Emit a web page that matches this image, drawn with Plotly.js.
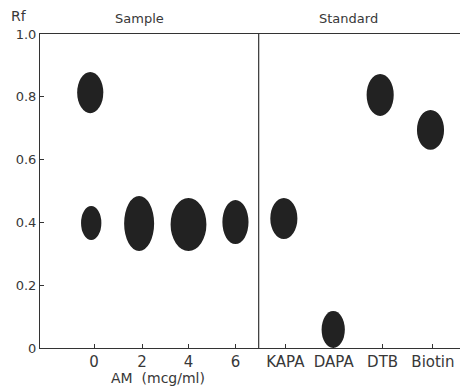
<!DOCTYPE html>
<html>
<head>
<meta charset="utf-8">
<script src="https://cdn.plot.ly/plotly-3.0.1.min.js"></script>
<style>
html,body{margin:0;padding:0;overflow:hidden;background:#fff;width:460px;height:388px;}
#chart{width:464px;height:388px;}
</style>
</head>
<body>
<div id="chart"></div>
<script>
// Lane tick positions and labels
var tickPositions = [0, 0.99, 1.95, 2.92, 3.95, 4.95, 5.96, 7.0];
var tickLabels = ["0", "2", "4", "6", "KAPA", "DAPA", "DTB", "Biotin"];

// Spots (read from the plate): lane position, Rf low/high, spot width in lane units
var spotNames = ["AM 0 (upper)", "AM 0", "AM 2", "AM 4", "AM 6", "KAPA", "DAPA", "DTB", "Biotin"];
var spotLane  = [-0.08, -0.06, 0.93, 1.95, 2.92, 3.92, 4.94, 5.91, 6.95];
var spotRfLow = [0.748, 0.344, 0.309, 0.309, 0.331, 0.347, 0.000, 0.739, 0.631];
var spotRfHigh= [0.879, 0.452, 0.484, 0.478, 0.471, 0.478, 0.118, 0.873, 0.758];
var spotWidth = [0.54, 0.42, 0.62, 0.74, 0.54, 0.56, 0.48, 0.56, 0.56];

var yTickVals = [0, 0.2, 0.4, 0.6, 0.8, 1.0];
var yTickText = ["0", "0.2", "0.4", "0.6", "0.8", "1.0"];

var ink = "#222222";
var txt = "#383838";
var fontFam = "DejaVu Sans, sans-serif";

var rfCenter = spotRfLow.map(function(l, i){ return (l + spotRfHigh[i]) / 2; });

var shapes = spotLane.map(function(x, i){
  return {
    type: "circle", xref: "x", yref: "y",
    x0: x - spotWidth[i]/2, x1: x + spotWidth[i]/2,
    y0: spotRfLow[i], y1: spotRfHigh[i],
    fillcolor: ink, line: {width: 0}, layer: "above"
  };
});
// divider between Sample and Standard sections
shapes.push({type: "line", xref: "x", yref: "paper", x0: 3.40, x1: 3.40, y0: 0, y1: 1,
  line: {color: "#333", width: 1.2}});

var traces = [{
  type: "scatter", mode: "markers",
  x: spotLane, y: rfCenter, text: spotNames,
  marker: {size: 10, color: ink, opacity: 0},
  hoverinfo: "text+y", showlegend: false
}];

var layout = {
  width: 464, height: 388,
  margin: {l: 40, r: 0, t: 34, b: 40},
  paper_bgcolor: "#fff", plot_bgcolor: "#fff",
  showlegend: false,
  font: {family: fontFam, color: txt, size: 13},
  xaxis: {
    range: [-1.118, 7.642], tickvals: tickPositions, ticktext: tickLabels,
    ticks: "inside", ticklen: 4, tickcolor: "#333", tickwidth: 1,
    showline: true, linecolor: "#333", linewidth: 1, mirror: true,
    showgrid: false, zeroline: false, fixedrange: true,
    tickfont: {family: fontFam, size: 15, color: txt}
  },
  yaxis: {
    range: [0, 1], tickvals: yTickVals, ticktext: yTickText,
    ticks: "inside", ticklen: 4, tickcolor: "#333", tickwidth: 1,
    showline: true, linecolor: "#333", linewidth: 1, mirror: "ticks",
    showgrid: false, zeroline: false, fixedrange: true,
    tickfont: {family: fontFam, size: 13, color: txt}
  },
  shapes: shapes,
  annotations: [
    {text: "Rf", xref: "paper", yref: "paper", x: -0.05, y: 1.058, xanchor: "center", yanchor: "middle",
     showarrow: false, font: {family: fontFam, size: 14, color: txt}},
    {text: "Sample", xref: "x", yref: "paper", x: 0.93, y: 1.048, xanchor: "center", yanchor: "middle",
     showarrow: false, font: {family: fontFam, size: 13, color: txt}},
    {text: "Standard", xref: "x", yref: "paper", x: 5.26, y: 1.048, xanchor: "center", yanchor: "middle",
     showarrow: false, font: {family: fontFam, size: 13, color: txt}},
    {text: "AM  (mcg/ml)", xref: "x", yref: "paper", x: 1.33, y: -0.096, xanchor: "center", yanchor: "middle",
     showarrow: false, font: {family: fontFam, size: 14, color: txt}}
  ]
};

Plotly.newPlot("chart", traces, layout, {staticPlot: true, displayModeBar: false});
</script>
</body>
</html>
